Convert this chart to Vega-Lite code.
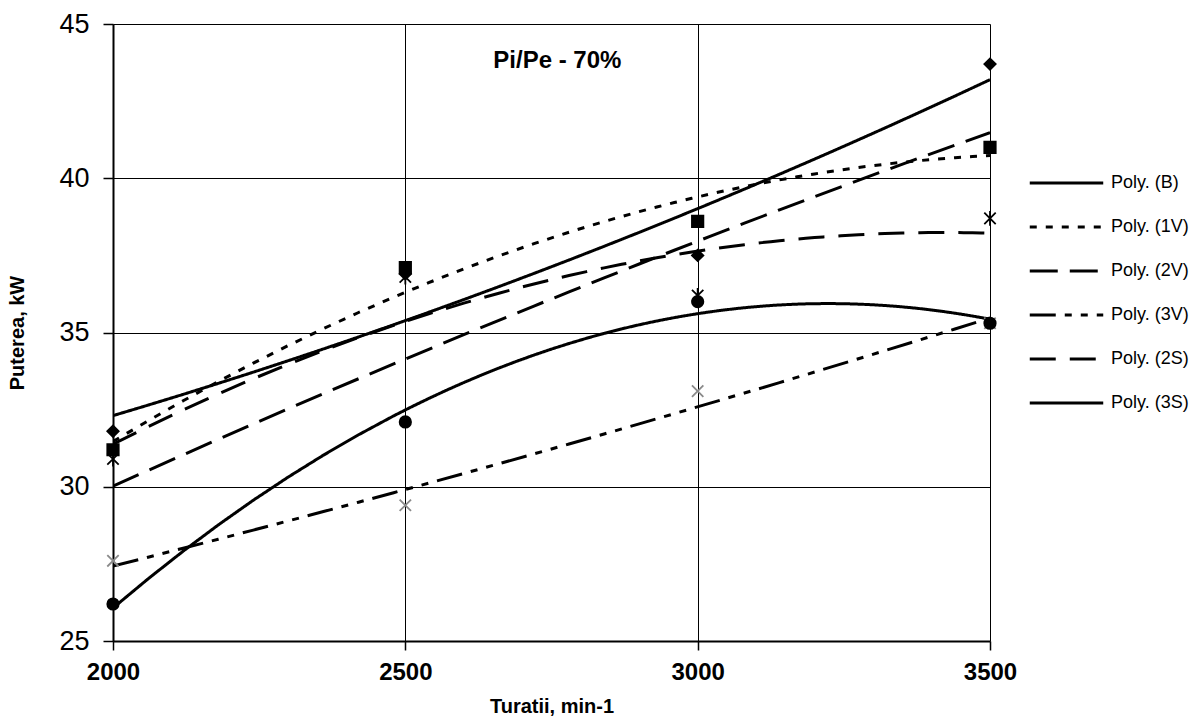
{
  "$schema": "https://vega.github.io/schema/vega-lite/v6.json",
  "width": 877,
  "height": 617,
  "autosize": {"type": "none"},
  "padding": {"left": 113, "top": 24, "right": 213, "bottom": 83},
  "background": "white",
  "config": {
    "font": "Liberation Sans",
    "view": {"stroke": null},
    "axis": {
      "labelColor": "black",
      "titleColor": "black",
      "tickColor": "black",
      "domainColor": "black",
      "gridColor": "black",
      "gridOpacity": 1,
      "gridWidth": 1,
      "domainWidth": 2,
      "tickWidth": 1.5
    }
  },
  "datasets": {
    "pts": [
      {"series": "B", "rpm": 2000, "kw": 31.8},
      {"series": "B", "rpm": 2500, "kw": 36.9},
      {"series": "B", "rpm": 3000, "kw": 37.5},
      {"series": "B", "rpm": 3500, "kw": 43.7},
      {"series": "1V", "rpm": 2000, "kw": 31.2},
      {"series": "1V", "rpm": 2500, "kw": 37.1},
      {"series": "1V", "rpm": 3000, "kw": 38.6},
      {"series": "1V", "rpm": 3500, "kw": 41.0},
      {"series": "2V", "rpm": 2000, "kw": 30.0},
      {"series": "2V", "rpm": 2500, "kw": 34.2},
      {"series": "2V", "rpm": 3000, "kw": 37.9},
      {"series": "2V", "rpm": 3500, "kw": 41.5},
      {"series": "3V", "rpm": 2000, "kw": 27.6},
      {"series": "3V", "rpm": 2500, "kw": 29.4},
      {"series": "3V", "rpm": 3000, "kw": 33.1},
      {"series": "3V", "rpm": 3500, "kw": 35.3},
      {"series": "2S", "rpm": 2000, "kw": 30.9},
      {"series": "2S", "rpm": 2500, "kw": 36.8},
      {"series": "2S", "rpm": 3000, "kw": 36.2},
      {"series": "2S", "rpm": 3500, "kw": 38.7},
      {"series": "3S", "rpm": 2000, "kw": 26.2},
      {"series": "3S", "rpm": 2500, "kw": 32.1},
      {"series": "3S", "rpm": 3000, "kw": 36.0},
      {"series": "3S", "rpm": 3500, "kw": 35.3}
    ]
  },
  "layer": [
    {
      "data": {"name": "pts"},
      "transform": [
        {"regression": "kw", "on": "rpm", "groupby": ["series"], "method": "poly", "order": 2, "extent": [2000, 3500]}
      ],
      "mark": {"type": "line", "color": "black", "strokeCap": "butt", "clip": true},
      "encoding": {
        "x": {
          "field": "rpm", "type": "quantitative",
          "scale": {"domain": [2000, 3500], "nice": false, "zero": false},
          "axis": {
            "values": [2000, 2500, 3000, 3500],
            "format": "d",
            "title": "Turatii, min-1",
            "titleFontSize": 20,
            "titleFontWeight": "bold",
            "titlePadding": 12,
            "labelFontSize": 24,
            "labelFontWeight": "bold",
            "labelPadding": 10,
            "tickSize": 9,
            "grid": true,
            "labelFlush": false
          }
        },
        "y": {
          "field": "kw", "type": "quantitative",
          "scale": {"domain": [25, 45], "nice": false, "zero": false},
          "axis": {
            "values": [25, 30, 35, 40, 45],
            "title": "Puterea, kW",
            "titleFontSize": 20,
            "titleFontWeight": "bold",
            "titlePadding": 31,
            "labelFontSize": 27,
            "labelPadding": 14,
            "tickSize": 10,
            "grid": true
          }
        },
        "strokeDash": {
          "field": "series", "type": "nominal",
          "scale": {
            "domain": ["B", "1V", "2V", "3V", "2S", "3S"],
            "range": [[1, 0], [7, 9], [28, 12], [26, 9, 7, 9, 7, 9], [26, 14], [1, 0]]
          },
          "legend": {
            "orient": "none",
            "legendX": 915,
            "legendY": 148,
            "title": null,
            "symbolType": "stroke",
            "symbolSize": 5400,
            "clipHeight": 22,
            "symbolStrokeColor": "black",
            "symbolStrokeWidth": 3,
            "labelFontSize": 18,
            "labelColor": "black",
            "labelOffset": 6,
            "rowPadding": 22,
            "labelExpr": "'Poly. (' + datum.label + ')'",
            "encode": {
              "symbols": {
                "update": {
                  "strokeWidth": {"signal": "datum.value === '2S' ? 1.4 : (datum.value === '3S' ? 1.7 : 3)"}
                }
              }
            }
          }
        },
        "strokeWidth": {
          "field": "series", "type": "nominal",
          "scale": {
            "domain": ["B", "1V", "2V", "3V", "2S", "3S"],
            "range": [3, 3, 3, 3, 1.4, 1.7]
          },
          "legend": null
        }
      }
    },
    {
      "data": {"name": "pts"},
      "transform": [{"filter": "datum.series !== '2V'"}],
      "mark": {"type": "point", "filled": true, "size": 130, "opacity": 1, "strokeWidth": 1.8},
      "encoding": {
        "x": {"field": "rpm", "type": "quantitative"},
        "y": {"field": "kw", "type": "quantitative"},
        "shape": {
          "field": "series", "type": "nominal",
          "scale": {
            "domain": ["B", "1V", "3V", "2S", "3S"],
            "range": ["diamond", "square", "M-1,-1L1,1M-1,1L1,-1", "M-1,-1L1,1M-1,1L1,-1M0,-1.3L0,1.3", "circle"]
          },
          "legend": null
        },
        "fill": {
          "field": "series", "type": "nominal",
          "scale": {"domain": ["B", "1V", "3V", "2S", "3S"], "range": ["black", "black", "#8a8a8a", "black", "black"]},
          "legend": null
        },
        "stroke": {
          "field": "series", "type": "nominal",
          "scale": {"domain": ["B", "1V", "3V", "2S", "3S"], "range": ["black", "black", "#8a8a8a", "black", "black"]},
          "legend": null
        }
      }
    },
    {
      "data": {"values": [{"label": "Pi/Pe - 70%"}]},
      "mark": {"type": "text", "fontSize": 24, "fontWeight": "bold", "color": "black", "align": "center", "baseline": "middle"},
      "encoding": {
        "x": {"datum": 2760, "type": "quantitative"},
        "y": {"datum": 43.8, "type": "quantitative"},
        "text": {"field": "label", "type": "nominal"}
      }
    }
  ]
}
